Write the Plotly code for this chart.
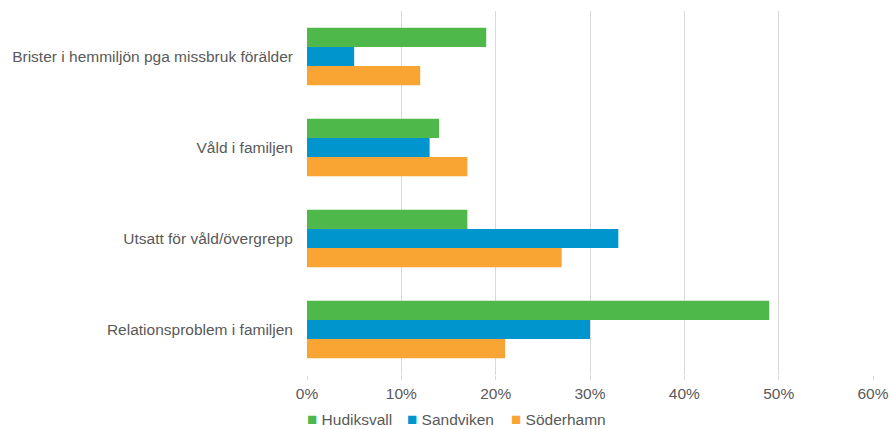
import plotly.graph_objects as go

categories = ["Brister i hemmiljön pga missbruk förälder", "Våld i familjen",
              "Utsatt för våld/övergrepp", "Relationsproblem i familjen"]
hudiksvall = [0.19, 0.14, 0.17, 0.49]
sandviken = [0.05, 0.13, 0.33, 0.30]
soderhamn = [0.12, 0.17, 0.27, 0.21]
series = [("Hudiksvall", hudiksvall, "#4FB84A"),
          ("Sandviken", sandviken, "#0096CD"),
          ("Söderhamn", soderhamn, "#F8A534")]
xticks = [0, 0.1, 0.2, 0.3, 0.4, 0.5, 0.6]
legend_x = [307, 407, 511]  # pixel positions of legend squares

FONT = "Liberation Sans, Arial, sans-serif"
TXT = "#595959"
FS = 15.5

fig = go.Figure()
for name, vals, col in series:
    fig.add_trace(go.Bar(y=categories, x=vals, name=name, orientation="h",
                         marker=dict(color=col, line=dict(width=0)),
                         showlegend=False))

legends = {}
for i, ((name, vals, col), lx) in enumerate(zip(series, legend_x)):
    key = "legend" if i == 0 else f"legend{i+1}"
    fig.add_trace(go.Scatter(
        x=[None], y=[None], mode="markers",
        marker=dict(color="rgba(0,0,0,0)", size=1),
        name=f"<span style='color:{col};font-size:17px'>■</span> {name}",
        legend=key, showlegend=True))
    legends[key] = dict(xref="container", yref="container",
                        x=(lx - 40) / 890, xanchor="left",
                        y=1 - 419 / 429, yanchor="middle",
                        font=dict(family=FONT, size=FS, color=TXT),
                        itemwidth=30, bgcolor="rgba(0,0,0,0)",
                        borderwidth=0)

fig.update_layout(
    width=890, height=429, barmode="group", bargap=0.37, bargroupgap=0,
    margin=dict(l=307, r=17, t=11, b=54, autoexpand=False),
    paper_bgcolor="white", plot_bgcolor="white",
    font=dict(family=FONT, size=FS, color=TXT),
    xaxis=dict(range=[0, 0.6], tickvals=xticks, tickformat=".0%",
               showgrid=True, gridcolor="#D9D9D9", gridwidth=1, zeroline=False,
               ticks="outside", ticklen=4, tickcolor="#D9D9D9", showline=False,
               automargin=False, tickfont=dict(family=FONT, size=FS, color=TXT)),
    yaxis=dict(autorange="reversed", showgrid=False, zeroline=False, showline=False,
               ticks="", ticklabelstandoff=13, automargin=False,
               tickfont=dict(family=FONT, size=FS, color=TXT)),
    **legends,
)
fig.write_html("out.html")
